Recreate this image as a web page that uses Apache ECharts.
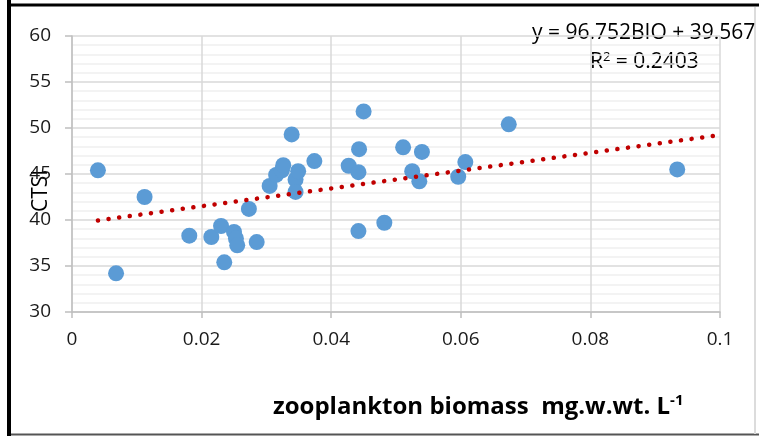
<!DOCTYPE html>
<html>
<head>
<meta charset="utf-8">
<script src="https://cdn.jsdelivr.net/npm/echarts@6/dist/echarts.min.js"></script>
<style>
  html, body { margin: 0; padding: 0; background: #fff; }
  #chart { width: 759px; height: 436px; }
</style>
</head>
<body>
<div id="chart"></div>
<script>
// zooplankton biomass (x) vs CTSI (y)
const bioValues = [
  0.0040, 0.0068, 0.0112, 0.0181, 0.0215, 0.0230, 0.0235, 0.0250, 0.0253, 0.0255,
  0.0273, 0.0285, 0.0305, 0.0315, 0.0324, 0.0326, 0.0339, 0.0345, 0.0345, 0.0349,
  0.0374, 0.0427, 0.0442, 0.0442, 0.0443, 0.0450, 0.0482, 0.0511, 0.0525, 0.0536,
  0.0540, 0.0596, 0.0607, 0.0674, 0.0934
];
const ctsiValues = [
  45.4, 34.2, 42.5, 38.3, 38.15, 39.35, 35.4, 38.7, 38.0, 37.25,
  41.2, 37.6, 43.7, 44.9, 45.4, 45.95, 49.3, 44.4, 43.05, 45.3,
  46.4, 45.9, 45.2, 38.8, 47.7, 51.8, 39.7, 47.9, 45.3, 44.2,
  47.4, 44.7, 46.3, 50.4, 45.5
];
// linear trend line end points
const trendX = [0.004, 0.1];
const trendY = [39.95, 49.24];

const xTicks = [0, 0.02, 0.04, 0.06, 0.08, 0.1];
const yTicks = [30, 35, 40, 45, 50, 55, 60];

const font = '"Open Sans", sans-serif';

function renderChart() {
  const chart = echarts.init(document.getElementById('chart'));
  const option = {
    backgroundColor: '#fff',
    animation: false,
    grid: {
      left: 72,
      right: 39,
      top: 36,
      bottom: 124
    },
    xAxis: {
      type: 'value',
      min: xTicks[0],
      max: xTicks[xTicks.length - 1],
      interval: 0.02,
      axisLine: { show: true, onZero: false, lineStyle: { color: '#bfbfbf', width: 1.5 } },
      axisTick: { show: true, length: 6, lineStyle: { color: '#bfbfbf', width: 1.5 } },
      axisLabel: {
        margin: 18,
        fontSize: 19,
        color: '#1a1a1a',
        fontFamily: font,
        formatter: v => String(+v.toFixed(2))
      },
      splitLine: { show: true, lineStyle: { color: '#d9d9d9', width: 1.5 } }
    },
    yAxis: {
      type: 'value',
      min: yTicks[0],
      max: yTicks[yTicks.length - 1],
      interval: 5,
      axisLine: { show: true, onZero: false, lineStyle: { color: '#bfbfbf', width: 1.5 } },
      axisTick: { show: true, length: 7, lineStyle: { color: '#bfbfbf', width: 1.5 } },
      axisLabel: {
        margin: 21,
        fontSize: 19,
        color: '#1a1a1a',
        fontFamily: font
      },
      splitLine: { show: true, lineStyle: { color: '#d9d9d9', width: 1.5 } },
      minorTick: { show: false, splitNumber: 5 },
      minorSplitLine: { show: true, lineStyle: { color: '#efefef', width: 1.5 } }
    },
    series: [
      {
        name: 'CTSI',
        type: 'scatter',
        data: bioValues.map((x, i) => [x, ctsiValues[i]]),
        symbolSize: 16,
        itemStyle: { color: '#5b9bd5', opacity: 1 },
        z: 3
      },
      {
        name: 'trend',
        type: 'line',
        data: trendX.map((x, i) => [x, trendY[i]]),
        symbol: 'none',
        lineStyle: {
          color: '#c00000',
          width: 4.5,
          type: [0.1, 10.6],
          cap: 'round'
        },
        z: 4
      }
    ],
    graphic: [
      // outer frame
      { type: 'line', shape: { x1: 9, y1: 0, x2: 9, y2: 436 }, style: { stroke: '#000', lineWidth: 4 } },
      { type: 'line', shape: { x1: 7, y1: 5, x2: 759, y2: 5 }, style: { stroke: '#000', lineWidth: 3 } },
      { type: 'line', shape: { x1: 11, y1: 434.5, x2: 759, y2: 434.5 }, style: { stroke: '#555', lineWidth: 2 } },
      { type: 'line', shape: { x1: 755, y1: 7, x2: 755, y2: 434 }, style: { stroke: '#dcdcdc', lineWidth: 2 } },
      {
        type: 'text',
        left: 532,
        top: 23,
        style: { text: 'y = 96.752BIO + 39.567', fontSize: 21, fontFamily: font, fill: '#000' }
      },
      {
        type: 'text',
        left: 590,
        top: 51,
        style: {
          text: 'R{sup|2} = 0.2403',
          fontSize: 21,
          fontFamily: font,
          fill: '#000',
          rich: { sup: { fontSize: 13, padding: [0, 0, 10, 0], fontFamily: font } }
        }
      },
      {
        type: 'text',
        x: 41,
        y: 191,
        rotation: Math.PI / 2,
        style: {
          text: 'CTSI',
          fontSize: 21,
          fontFamily: font,
          fill: '#000',
          align: 'center',
          verticalAlign: 'middle'
        }
      },
      {
        type: 'text',
        left: 273,
        top: 393,
        style: {
          text: 'zooplankton biomass  mg.w.wt. L{sup|-1}',
          fontSize: 24,
          fontWeight: 'bold',
          fontFamily: font,
          fill: '#000',
          rich: { sup: { fontSize: 15, fontWeight: 'bold', padding: [0, 0, 13, 0], fontFamily: font } }
        }
      }
    ]
  };
  chart.setOption(option, true);
}
renderChart();
</script>
</body>
</html>
